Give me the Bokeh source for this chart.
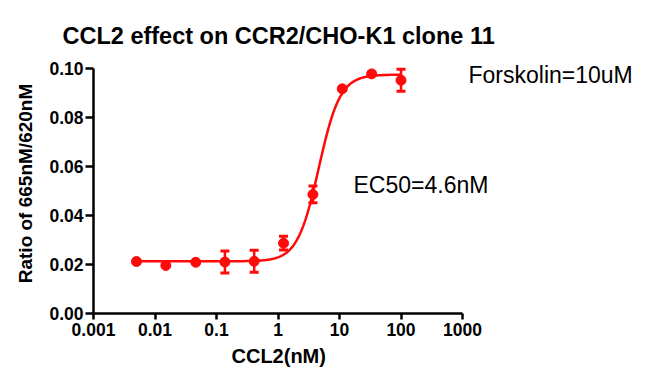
import numpy as np
from bokeh.plotting import figure
from bokeh.models import Range1d, FixedTicker, Label, Whisker, ColumnDataSource, TeeHead, Title
from bokeh.embed import file_html
from bokeh.resources import INLINE

# ---- text ----
title_text = "CCL2 effect on CCR2/CHO-K1 clone 11"
x_label = "CCL2(nM)"
y_label = "Ratio of 665nM/620nM"
annot_forskolin = "Forskolin=10uM"
annot_ec50 = "EC50=4.6nM"

# ---- data ----
conc_nM = [0.005, 0.015, 0.046, 0.137, 0.41, 1.23, 3.7, 11.1, 33.3, 100]
ratio_mean = [0.0212, 0.0196, 0.0209, 0.0210, 0.0213, 0.0287, 0.0486, 0.0917, 0.0978, 0.0952]
ratio_err = [0.0004, 0.0004, 0.0004, 0.0045, 0.0045, 0.0028, 0.0034, 0.0005, 0.0005, 0.0045]

# fitted 4-parameter logistic curve parameters
fit_bottom = 0.0213
fit_top = 0.0975
fit_ec50 = 4.6
fit_hill = 2.5

x_axis_bounds = (0.001, 1000)
y_axis_bounds = (0.0, 0.10)
x_ticks = [0.001, 0.01, 0.1, 1, 10, 100, 1000]
x_tick_labels = ["0.001", "0.01", "0.1", "1", "10", "100", "1000"]
y_ticks = [0.0, 0.02, 0.04, 0.06, 0.08, 0.10]
y_tick_labels = ["0.00", "0.02", "0.04", "0.06", "0.08", "0.10"]

RED = "#FF0A0A"
FONT = "Liberation Sans"

# ---- layout (pixels) ----
W, H = 640, 386
LEFT, RIGHT, TOP, BOTTOM = 93, 5, 53, 73
AXIS_W_PX = 369   # drawn length of x axis
AXIS_H_PX = 245   # drawn length of y axis
frame_w = W - LEFT - RIGHT
frame_h = H - TOP - BOTTOM
lx0, lx1 = np.log10(x_axis_bounds[0]), np.log10(x_axis_bounds[1])
x_end = 10 ** (lx0 + (lx1 - lx0) * frame_w / AXIS_W_PX)
y_end = y_axis_bounds[0] + (y_axis_bounds[1] - y_axis_bounds[0]) * frame_h / AXIS_H_PX

p = figure(width=W, height=H, x_axis_type="log",
           x_range=Range1d(x_axis_bounds[0], x_end), y_range=Range1d(y_axis_bounds[0], y_end),
           output_backend="svg", toolbar_location=None,
           min_border_left=LEFT, min_border_right=RIGHT,
           min_border_top=TOP, min_border_bottom=BOTTOM)
p.xgrid.visible = False
p.ygrid.visible = False
p.outline_line_color = None

# title
p.title.text = title_text
p.title.align = "left"
p.title.offset = -31
p.title.text_font = FONT
p.title.text_font_style = "bold"
p.title.text_font_size = "23.5px"
p.title.text_color = "black"
p.title.standoff = 10

# fitted curve
xs = np.logspace(np.log10(conc_nM[0]), np.log10(conc_nM[-1]), 400)
ys = fit_bottom + (fit_top - fit_bottom) / (1 + (fit_ec50 / xs) ** fit_hill)
p.line(xs, ys, line_color=RED, line_width=2.5)

# error bars
src = ColumnDataSource(dict(
    x=conc_nM, y=ratio_mean,
    upper=[m + e for m, e in zip(ratio_mean, ratio_err)],
    lower=[m - e for m, e in zip(ratio_mean, ratio_err)],
))
wh = Whisker(source=src, base="x", upper="upper", lower="lower",
             line_color=RED, line_width=2.5, level="glyph",
             upper_head=TeeHead(size=9, line_color=RED, line_width=3),
             lower_head=TeeHead(size=9, line_color=RED, line_width=3))
p.add_layout(wh)
p.scatter("x", "y", source=src, size=10, fill_color=RED, line_color=RED)

# axes
xa = p.xaxis[0]
ya = p.yaxis[0]
xa.bounds = x_axis_bounds
ya.bounds = y_axis_bounds
xa.ticker = FixedTicker(ticks=x_ticks)
xa.major_label_overrides = {t: l for t, l in zip(x_ticks, x_tick_labels)}
ya.ticker = FixedTicker(ticks=y_ticks)
ya.major_label_overrides = {t: l for t, l in zip(y_ticks, y_tick_labels)}
ya.axis_label = y_label
for ax in (xa, ya):
    ax.axis_line_width = 2.5
    ax.axis_line_color = "black"
    ax.major_tick_line_width = 2.5
    ax.major_tick_line_color = "black"
    ax.major_tick_in = 0
    ax.minor_tick_line_color = None
    ax.major_label_text_font = FONT
    ax.major_label_text_font_style = "bold"
    ax.major_label_text_font_size = "17.5px"
    ax.major_label_text_color = "black"
    ax.axis_label_text_font = FONT
    ax.axis_label_text_font_style = "bold"
    ax.axis_label_text_font_size = "19px"
    ax.axis_label_text_color = "black"
xa.major_tick_out = 6
xa.major_label_standoff = 3
ya.major_tick_out = 8
ya.major_label_standoff = 2
ya.axis_label_standoff = 10

# x-axis title, placed under the drawn part of the axis
p.add_layout(Title(text=x_label, align="left", offset=138, text_font=FONT,
                   text_font_style="bold", text_font_size="20px", text_color="black",
                   standoff=8), "below")

# annotations (screen offsets from the frame's lower-left corner)
p.add_layout(Label(x=375, y=239, x_units="screen", y_units="screen", text=annot_forskolin,
                   text_font=FONT, text_font_size="23px",
                   text_color="black", text_baseline="alphabetic"))
p.add_layout(Label(x=260, y=129, x_units="screen", y_units="screen", text=annot_ec50,
                   text_font=FONT, text_font_size="23px",
                   text_color="black", text_baseline="alphabetic"))

open("out.html", "w").write(file_html(p, INLINE))
